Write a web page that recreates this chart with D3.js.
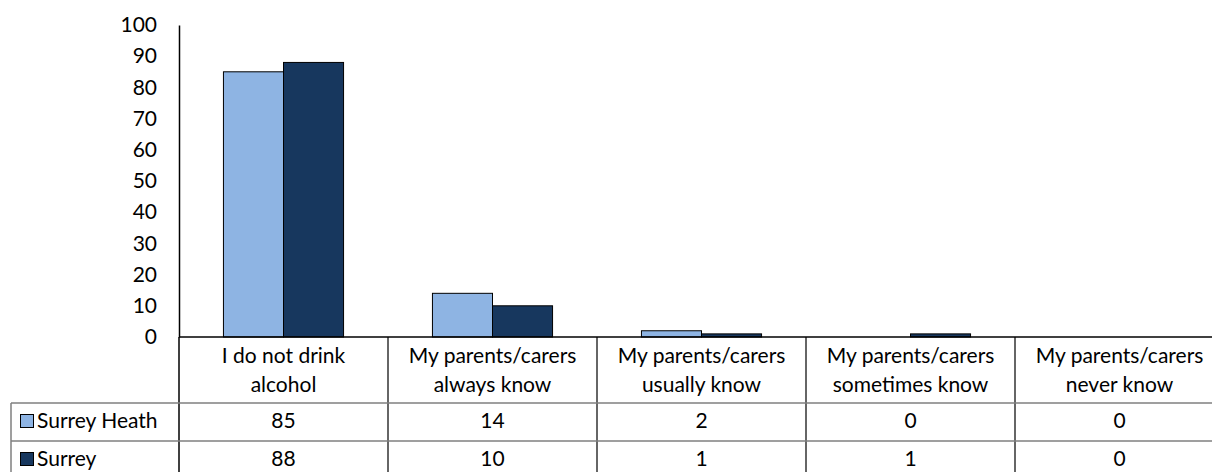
<!DOCTYPE html>
<html>
<head>
<meta charset="utf-8">
<script src="https://cdn.jsdelivr.net/npm/d3@7"></script>
<style>
  body { margin: 0; background: #fff; }
  svg { display: block; font-family: Lato, "Open Sans", sans-serif; }
</style>
</head>
<body>
<script>
// categories and series
var categories = [
  ["I do not drink", "alcohol"],
  ["My parents/carers", "always know"],
  ["My parents/carers", "usually know"],
  ["My parents/carers", "sometimes know"],
  ["My parents/carers", "never know"]
];
var seriesNames = ["Surrey Heath", "Surrey"];
var surreyHeath = [85, 14, 2, 0, 0];
var surrey = [88, 10, 1, 1, 0];
var yTicks = [0, 10, 20, 30, 40, 50, 60, 70, 80, 90, 100];
var colors = ["#8EB4E3", "#17375E"];

var W = 1212, H = 472;
var plotLeft = 179, plotRight = 1224, plotTop = 25, plotBottom = 337;
var rowH = 38, catRowBottom = 403, legendLeft = 11;
var fontSize = 21;

var svg = d3.select("body").append("svg")
    .attr("width", W)
    .attr("height", H);

var x = d3.scaleBand()
    .domain(d3.range(categories.length))
    .range([plotLeft, plotRight]);

var xs = d3.scaleBand()
    .domain([0, 1])
    .range([0, x.bandwidth()])
    .paddingOuter(0.74);

var y = d3.scaleLinear().domain([0, 100]).range([plotBottom, plotTop]);

var series = [surreyHeath, surrey];

// bars (zero values draw nothing)
series.forEach(function(vals, s) {
  var pts = vals.map(function(v, i) { return {i: i, v: v}; })
                .filter(function(d) { return d.v > 0; });
  svg.append("g").selectAll("rect")
    .data(pts)
    .enter().append("rect")
      .attr("x", function(d) { return x(d.i) + xs(s); })
      .attr("y", function(d) { return y(d.v); })
      .attr("width", xs.bandwidth())
      .attr("height", function(d) { return y(0) - y(d.v); })
      .attr("fill", colors[s])
      .attr("stroke", "#000")
      .attr("stroke-width", 1);
});

// y axis
var yAxis = svg.append("g")
    .attr("transform", "translate(" + plotLeft + ",0)")
    .call(d3.axisLeft(y).tickValues(yTicks).tickSize(0).tickPadding(22));
yAxis.select(".domain").attr("stroke", "#000").attr("stroke-width", 1.5);
yAxis.selectAll("text")
    .attr("font-family", "Lato, sans-serif")
    .attr("font-size", fontSize)
    .attr("fill", "#000");

// data table
var grid = svg.append("g");
grid.selectAll(".vcat")
  .data(d3.range(categories.length + 1))
  .enter().append("line")
    .attr("x1", function(i) { return i < categories.length ? x(i) : x(i - 1) + x.bandwidth(); })
    .attr("x2", function(i) { return i < categories.length ? x(i) : x(i - 1) + x.bandwidth(); })
    .attr("y1", plotBottom)
    .attr("y2", H + 10)
    .attr("stroke", function(i) { return i === 0 ? "#000" : "#333"; })
    .attr("stroke-width", 1.5);

[catRowBottom, catRowBottom + rowH, catRowBottom + 2 * rowH].forEach(function(yy) {
  grid.append("line")
    .attr("x1", legendLeft).attr("x2", W + 20)
    .attr("y1", yy).attr("y2", yy)
    .attr("stroke", "#7f7f7f").attr("stroke-width", 1.5);
});
grid.append("line")
    .attr("x1", legendLeft).attr("x2", legendLeft)
    .attr("y1", catRowBottom).attr("y2", H + 10)
    .attr("stroke", "#7f7f7f").attr("stroke-width", 1.5);

// baseline
svg.append("line")
    .attr("x1", plotLeft).attr("x2", W + 20)
    .attr("y1", plotBottom).attr("y2", plotBottom)
    .attr("stroke", "#000").attr("stroke-width", 1.5);

// category labels
var cat = svg.append("g").selectAll("text")
  .data(categories)
  .enter().append("text")
    .attr("text-anchor", "middle")
    .attr("font-size", fontSize)
    .attr("fill", "#000")
    .attr("x", function(d, i) { return x(i) + x.bandwidth() / 2; })
    .attr("y", 363);
cat.each(function(d) {
  var t = d3.select(this);
  d.forEach(function(line, k) {
    t.append("tspan")
      .attr("x", t.attr("x"))
      .attr("dy", k === 0 ? 0 : 29)
      .text(line);
  });
});

// value rows and legend keys
series.forEach(function(vals, s) {
  var rowTop = catRowBottom + s * rowH;
  svg.append("rect")
    .attr("x", 20.5).attr("y", rowTop + 11.5)
    .attr("width", 13).attr("height", 13)
    .attr("fill", colors[s]).attr("stroke", "#000").attr("stroke-width", 1);
  svg.append("text")
    .attr("x", 37).attr("y", rowTop + 25)
    .attr("font-size", fontSize).attr("fill", "#000")
    .text(seriesNames[s]);
  svg.append("g").selectAll("text")
    .data(vals)
    .enter().append("text")
      .attr("text-anchor", "middle")
      .attr("font-size", fontSize)
      .attr("fill", "#000")
      .attr("x", function(d, i) { return x(i) + x.bandwidth() / 2; })
      .attr("y", rowTop + 25)
      .text(function(d) { return d; });
});
</script>
</body>
</html>
